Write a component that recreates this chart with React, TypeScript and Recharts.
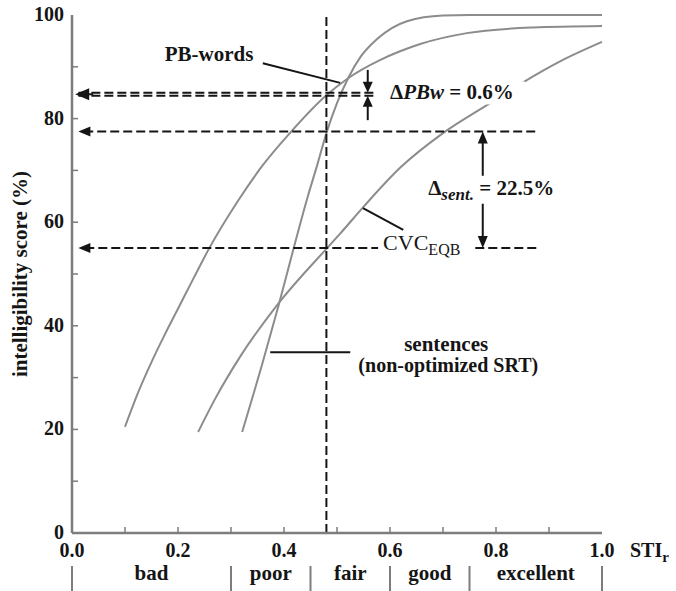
import React from 'react';
import { ComposedChart, Line, XAxis, YAxis, ReferenceLine, ReferenceDot } from 'recharts';

// axis ticks
const stiTicks = [0, 0.1, 0.2, 0.3, 0.4, 0.5, 0.6, 0.7, 0.8, 0.9, 1.0];
const stiLabels = [0, 0.2, 0.4, 0.6, 0.8, 1.0];
const scoreTicks = [0, 10, 20, 30, 40, 50, 60, 70, 80, 90, 100];
const scoreLabels = [0, 20, 40, 60, 80, 100];

// STI qualification bands under the axis
const qualBounds = [0, 0.3, 0.45, 0.6, 0.75, 1.0];
const qualNames = ['bad', 'poor', 'fair', 'good', 'excellent'];

// curves (STIr, intelligibility %)
const pbWords = [
  { sti: 0.1, score: 20.5 },
  { sti: 0.125, score: 27.2 },
  { sti: 0.15, score: 33.0 },
  { sti: 0.175, score: 38.3 },
  { sti: 0.2, score: 43.3 },
  { sti: 0.23, score: 49.3 },
  { sti: 0.258, score: 54.8 },
  { sti: 0.313, score: 64.1 },
  { sti: 0.36, score: 71.0 },
  { sti: 0.411, score: 77.2 },
  { sti: 0.481, score: 84.6 },
  { sti: 0.521, score: 87.8 },
  { sti: 0.581, score: 91.3 },
  { sti: 0.619, score: 93.0 },
  { sti: 0.657, score: 94.4 },
  { sti: 0.745, score: 96.5 },
  { sti: 0.87, score: 97.6 },
  { sti: 1.0, score: 97.9 },
];

const sentences = [
  { sti: 0.321, score: 19.5 },
  { sti: 0.36, score: 33.0 },
  { sti: 0.39, score: 44.0 },
  { sti: 0.417, score: 54.5 },
  { sti: 0.445, score: 65.0 },
  { sti: 0.464, score: 71.5 },
  { sti: 0.48, score: 77.2 },
  { sti: 0.5, score: 83.0 },
  { sti: 0.521, score: 87.8 },
  { sti: 0.545, score: 92.0 },
  { sti: 0.575, score: 95.3 },
  { sti: 0.632, score: 98.8 },
  { sti: 0.7, score: 99.9 },
  { sti: 0.75, score: 100 },
  { sti: 1.0, score: 100 },
];

const cvcEqb = [
  { sti: 0.238, score: 19.5 },
  { sti: 0.269, score: 25.7 },
  { sti: 0.317, score: 34.0 },
  { sti: 0.387, score: 44.0 },
  { sti: 0.483, score: 55.2 },
  { sti: 0.506, score: 57.8 },
  { sti: 0.552, score: 63.2 },
  { sti: 0.619, score: 70.5 },
  { sti: 0.7, score: 77.2 },
  { sti: 0.789, score: 83.0 },
  { sti: 0.851, score: 87.0 },
  { sti: 0.92, score: 91.0 },
  { sti: 1.0, score: 94.8 },
];

// read-off levels at STIr = 0.48
const stiRef = 0.48;
const pbLevels = [85.0, 84.4];
const sentLevel = 77.5;
const cvcLevel = 55.0;

const FONT = '"Liberation Serif", "Times New Roman", serif';
const FRAME = '#7d7d7d';
const INK = '#151515';
const CURVE = '#8c8c8c';
const DASH = '9 4';

const qualMids = qualNames.map((_, i) => (qualBounds[i] + qualBounds[i + 1]) / 2);
const bottomTicks = Array.from(new Set([...stiTicks, ...qualBounds, ...qualMids])).sort((a, b) => a - b);

const txt = { fontFamily: FONT, fontWeight: 'bold' as const, fontSize: 21, fill: INK };

function BottomTick({ x, y, payload }: any) {
  const v = payload.value;
  const parts: React.ReactNode[] = [];
  if (stiTicks.includes(v) && v > 0 && v < 1) {
    parts.push(<line key="t" x1={x} y1={y} x2={x} y2={y - 6} stroke={FRAME} strokeWidth={1.5} />);
  }
  if (stiLabels.includes(v)) {
    parts.push(
      <text key="l" x={x} y={y + 24} textAnchor="middle" {...txt} fontSize={20}>
        {v.toFixed(1)}
      </text>
    );
  }
  if (qualBounds.includes(v)) {
    parts.push(<line key="b" x1={x} y1={y + 33} x2={x} y2={y + 60} stroke={FRAME} strokeWidth={2} />);
  }
  const qi = qualMids.indexOf(v);
  if (qi >= 0) {
    parts.push(
      <text key="q" x={x} y={y + 47} textAnchor="middle" {...txt}>
        {qualNames[qi]}
      </text>
    );
  }
  return <g>{parts}</g>;
}

function TopTick({ x, y, payload }: any) {
  const v = payload.value;
  if (v <= 0 || v >= 1) return <g />;
  return <line x1={x} y1={y} x2={x} y2={y + 6} stroke={FRAME} strokeWidth={1.5} />;
}

function LeftTick({ x, y, payload }: any) {
  const v = payload.value;
  return (
    <g>
      {v > 0 && v < 100 && <line x1={x} y1={y} x2={x + 6} y2={y} stroke={FRAME} strokeWidth={1.5} />}
      {scoreLabels.includes(v) && (
        <text x={x - 8} y={y + 6} textAnchor="end" {...txt} fontSize={20}>
          {v}
        </text>
      )}
    </g>
  );
}

function RightTick({ x, y, payload }: any) {
  const v = payload.value;
  if (v <= 0 || v >= 100) return <g />;
  return <line x1={x} y1={y} x2={x - 6} y2={y} stroke={FRAME} strokeWidth={1.5} />;
}

// line with optional filled arrowheads, used as ReferenceLine shape
function arrowShape(opts: { start?: boolean; end?: boolean; dash?: string; len?: number; half?: number; width?: number }) {
  return (p: any) => {
    const { x1, y1, x2, y2 } = p;
    const dx = x2 - x1;
    const dy = y2 - y1;
    const d = Math.hypot(dx, dy) || 1;
    const ux = dx / d;
    const uy = dy / d;
    const L = opts.len ?? 12;
    const W = opts.half ?? 5;
    const head = (tx: number, ty: number, ax: number, ay: number) =>
      `${tx},${ty} ${tx - ax * L - ay * W},${ty - ay * L + ax * W} ${tx - ax * L + ay * W},${ty - ay * L - ax * W}`;
    const sx = opts.start ? x1 + ux * L * 0.6 : x1;
    const sy = opts.start ? y1 + uy * L * 0.6 : y1;
    const ex = opts.end ? x2 - ux * L * 0.6 : x2;
    const ey = opts.end ? y2 - uy * L * 0.6 : y2;
    return (
      <g>
        <line x1={sx} y1={sy} x2={ex} y2={ey} stroke={INK} strokeWidth={opts.width ?? 2} strokeDasharray={opts.dash} />
        {opts.end && <polygon points={head(x2, y2, ux, uy)} fill={INK} />}
        {opts.start && <polygon points={head(x1, y1, -ux, -uy)} fill={INK} />}
      </g>
    );
  };
}

const plain = arrowShape({});
const dashed = arrowShape({ dash: DASH });
const dashedHead = arrowShape({ dash: DASH, end: true });
const solidHead = arrowShape({ end: true, len: 11, half: 5 });
const bothHeads = arrowShape({ start: true, end: true, len: 12, half: 5 });
const bigHead = arrowShape({ end: true, len: 14, half: 6 });

export default function App() {
  return (
    <div style={{ position: 'absolute', left: 0, top: 0, width: 676, height: 591, background: '#fff' }}>
      <ComposedChart width={676} height={591} margin={{ top: 15, right: 74, bottom: 0, left: 0 }}>
        <XAxis
          dataKey="sti"
          type="number"
          domain={[0, 1]}
          ticks={bottomTicks}
          interval={0}
          height={58}
          tickSize={0}
          tickMargin={0}
          tickLine={false}
          axisLine={{ stroke: FRAME, strokeWidth: 2.5 }}
          tick={<BottomTick />}
          label={{
            content: (p: any) => {
              const vb = p.viewBox;
              return (
                <text x={vb.x + vb.width + 28} y={vb.y + 24} {...txt} fontSize={20}>
                  STI
                  <tspan fontSize={15} dy={5}>r</tspan>
                </text>
              );
            },
          }}
        />
        <XAxis
          xAxisId="t"
          orientation="top"
          type="number"
          domain={[0, 1]}
          ticks={stiTicks}
          interval={0}
          height={0}
          tickSize={0}
          tickMargin={0}
          tickLine={false}
          axisLine={{ stroke: FRAME, strokeWidth: 2.5 }}
          tick={<TopTick />}
        />
        <YAxis
          type="number"
          domain={[0, 100]}
          ticks={scoreTicks}
          interval={0}
          width={72}
          tickSize={0}
          tickMargin={0}
          tickLine={false}
          axisLine={{ stroke: FRAME, strokeWidth: 2.5 }}
          tick={<LeftTick />}
          label={{
            content: (p: any) => {
              const vb = p.viewBox;
              return (
                <text
                  transform={`translate(${vb.x + 27}, ${vb.y + vb.height / 2}) rotate(-90)`}
                  textAnchor="middle"
                  {...txt}
                >
                  intelligibility score (%)
                </text>
              );
            },
          }}
        />
        <YAxis
          yAxisId="r"
          orientation="right"
          type="number"
          domain={[0, 100]}
          ticks={scoreTicks}
          interval={0}
          width={0}
          tickSize={0}
          tickMargin={0}
          tickLine={false}
          axisLine={{ stroke: FRAME, strokeWidth: 2.5 }}
          tick={<RightTick />}
        />

        <Line data={pbWords} dataKey="score" type="monotone" stroke={CURVE} strokeWidth={2} dot={false} isAnimationActive={false} />
        <Line data={sentences} dataKey="score" type="monotone" stroke={CURVE} strokeWidth={2} dot={false} isAnimationActive={false} />
        <Line data={cvcEqb} dataKey="score" type="monotone" stroke={CURVE} strokeWidth={2} dot={false} isAnimationActive={false} />

        <ReferenceLine x={stiRef} stroke={INK} strokeWidth={2} strokeDasharray={DASH} />

        {pbLevels.map((lv) => (
          <ReferenceLine key={lv} segment={[{ x: 0.012, y: lv }, { x: 0.576, y: lv }]} shape={dashed} />
        ))}
        <ReferenceLine
          segment={[{ x: 0.04, y: (pbLevels[0] + pbLevels[1]) / 2 }, { x: 0.006, y: (pbLevels[0] + pbLevels[1]) / 2 }]}
          shape={bigHead}
        />
        <ReferenceLine segment={[{ x: 0.874, y: sentLevel }, { x: 0.012, y: sentLevel }]} shape={dashedHead} />
        <ReferenceLine segment={[{ x: 0.876, y: cvcLevel }, { x: 0.012, y: cvcLevel }]} shape={dashedHead} />

        {/* delta arrows */}
        <ReferenceLine segment={[{ x: 0.558, y: 89.4 }, { x: 0.558, y: pbLevels[0] }]} shape={solidHead} />
        <ReferenceLine segment={[{ x: 0.558, y: 79.7 }, { x: 0.558, y: pbLevels[1] }]} shape={solidHead} />
        <ReferenceLine segment={[{ x: 0.775, y: sentLevel }, { x: 0.775, y: cvcLevel }]} shape={bothHeads} />

        {/* label pointers */}
        <ReferenceLine segment={[{ x: 0.36, y: 90.7 }, { x: 0.506, y: 86.9 }]} shape={plain} />
        <ReferenceLine segment={[{ x: 0.549, y: 62.7 }, { x: 0.625, y: 58.5 }]} shape={plain} />
        <ReferenceLine segment={[{ x: 0.374, y: 34.9 }, { x: 0.525, y: 34.9 }]} shape={plain} />

        <ReferenceDot
          x={0.175}
          y={91.1}
          r={0}
          shape={(p: any) => (
            <text x={p.cx} y={p.cy} {...txt}>
              PB-words
            </text>
          )}
        />
        <ReferenceDot
          x={0.6}
          y={83.7}
          r={0}
          shape={(p: any) => (
            <g>
              <rect x={p.cx - 3} y={p.cy - 18} width={138} height={23} fill="#fff" />
              <text x={p.cx} y={p.cy} {...txt}>
                Δ<tspan fontStyle="italic">PBw</tspan> = 0.6%
              </text>
            </g>
          )}
        />
        <ReferenceDot
          x={0.672}
          y={65.3}
          r={0}
          shape={(p: any) => (
            <g>
              <rect x={p.cx - 3} y={p.cy - 19} width={142} height={28} fill="#fff" />
              <text x={p.cx} y={p.cy} {...txt}>
                Δ
                <tspan fontStyle="italic" fontSize={17} dy={5}>sent.</tspan>
                <tspan dy={-5}> = 22.5%</tspan>
              </text>
            </g>
          )}
        />
        <ReferenceDot
          x={0.587}
          y={54.6}
          r={0}
          shape={(p: any) => (
            <g>
              <rect x={p.cx - 5} y={p.cy - 17} width={94} height={26} fill="#fff" />
              <text x={p.cx} y={p.cy} fontFamily={FONT} fontSize={22} fill={INK}>
                CVC
                <tspan fontSize={16} dy={5}>EQB</tspan>
              </text>
            </g>
          )}
        />
        <ReferenceDot
          x={0.706}
          y={35.1}
          r={0}
          shape={(p: any) => (
            <text x={p.cx} y={p.cy} textAnchor="middle" {...txt}>
              sentences
            </text>
          )}
        />
        <ReferenceDot
          x={0.71}
          y={31.1}
          r={0}
          shape={(p: any) => (
            <text x={p.cx} y={p.cy} textAnchor="middle" {...txt} fontSize={20}>
              (non-optimized SRT)
            </text>
          )}
        />
      </ComposedChart>
    </div>
  );
}
